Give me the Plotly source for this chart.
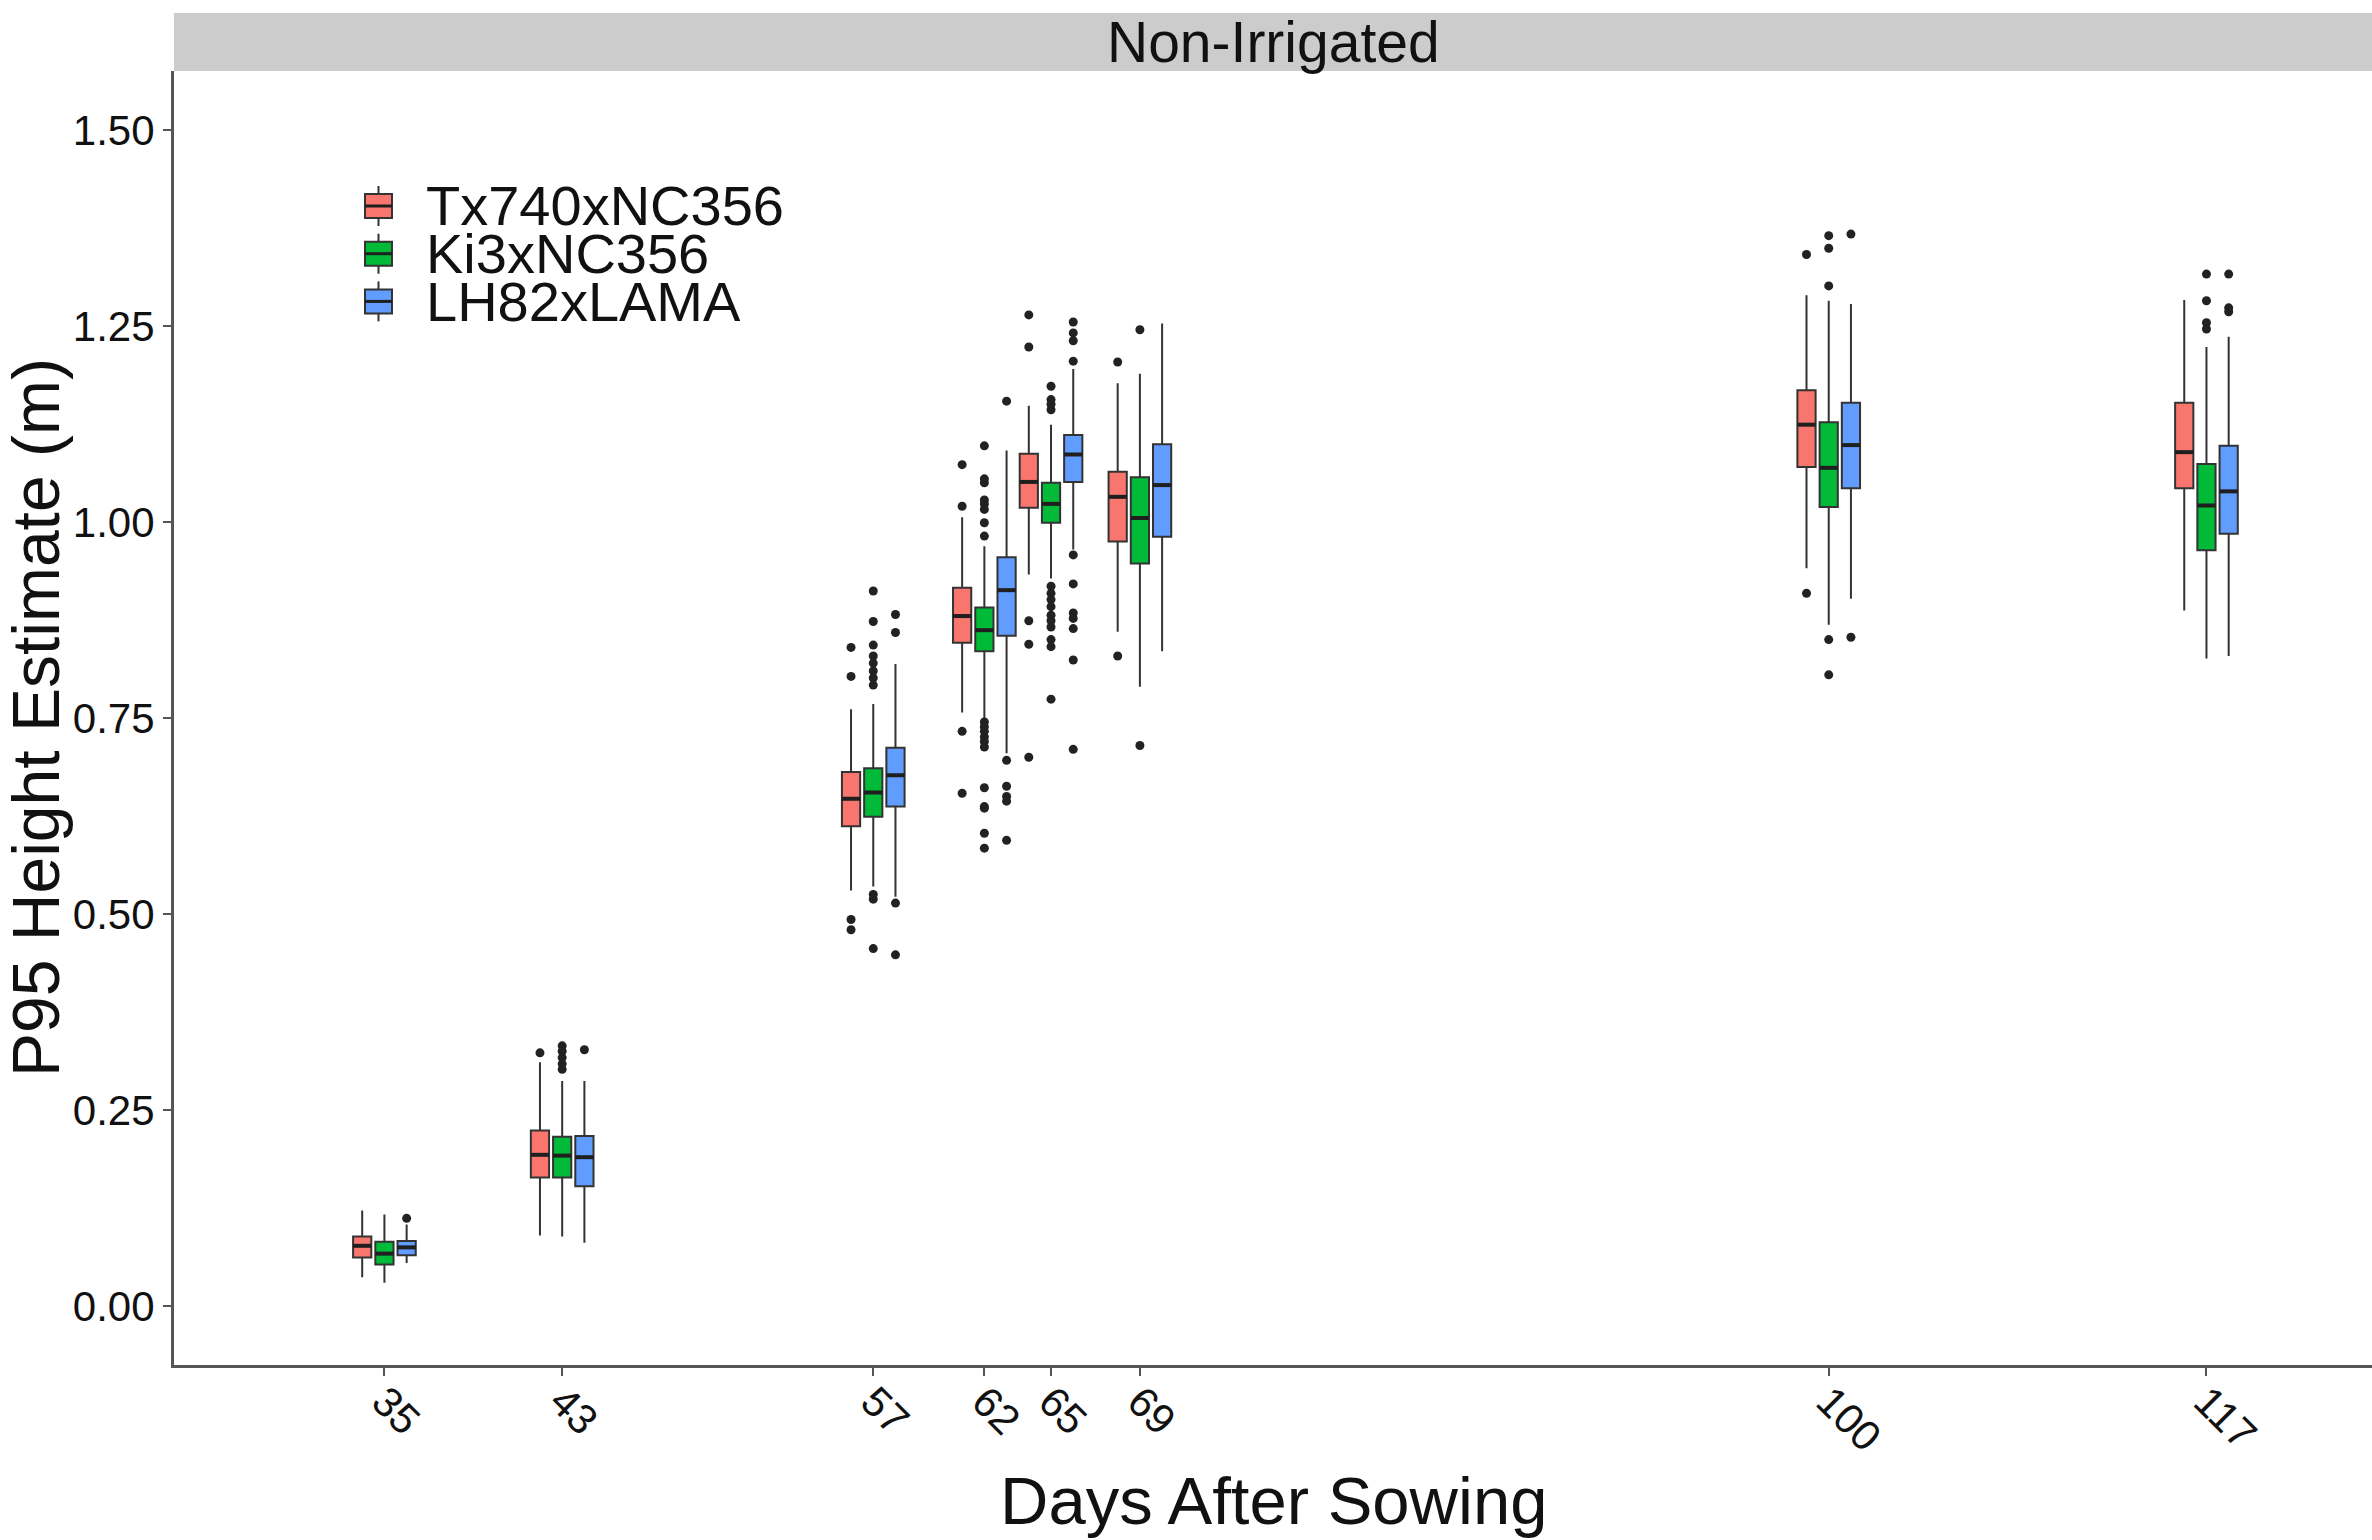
import plotly.graph_objects as go

# ---------------- data ----------------
days = [35, 43, 57, 62, 65, 69, 100, 117]
day_labels = ["35", "43", "57", "62", "65", "69", "100", "117"]
y_ticks = [0.0, 0.25, 0.50, 0.75, 1.00, 1.25, 1.50]
y_tick_labels = ["0.00", "0.25", "0.50", "0.75", "1.00", "1.25", "1.50"]

genotypes = ["Tx740xNC356", "Ki3xNC356", "LH82xLAMA"]

# Tx740xNC356
tx_lower = [0.037, 0.090, 0.530, 0.757, 0.933, 0.860, 0.941, 0.887]
tx_q1 = [0.062, 0.164, 0.612, 0.846, 1.018, 0.975, 1.070, 1.043]
tx_median = [0.077, 0.193, 0.647, 0.880, 1.051, 1.032, 1.124, 1.089]
tx_q3 = [0.089, 0.224, 0.681, 0.916, 1.087, 1.064, 1.168, 1.152]
tx_upper = [0.122, 0.311, 0.761, 1.006, 1.148, 1.177, 1.289, 1.283]
tx_outliers = [
    [],
    [0.323],
    [0.840, 0.803, 0.493, 0.480],
    [1.073, 1.020, 0.733, 0.654],
    [1.264, 1.223, 0.874, 0.844, 0.700],
    [1.204, 0.829],
    [1.341, 0.909],
    [],
]

# Ki3xNC356
ki_lower = [0.030, 0.089, 0.535, 0.750, 0.928, 0.790, 0.869, 0.826]
ki_q1 = [0.053, 0.164, 0.624, 0.835, 0.999, 0.947, 1.019, 0.964]
ki_median = [0.067, 0.192, 0.655, 0.862, 1.023, 1.005, 1.069, 1.021]
ki_q3 = [0.082, 0.216, 0.686, 0.891, 1.050, 1.057, 1.127, 1.074]
ki_upper = [0.117, 0.287, 0.768, 0.969, 1.124, 1.189, 1.282, 1.223]
ki_outliers = [
    [],
    [0.332, 0.325, 0.317, 0.309, 0.302],
    [0.912, 0.873, 0.843, 0.829, 0.820, 0.810, 0.801, 0.792, 0.525, 0.519, 0.456],
    [1.097, 1.055, 1.050, 1.028, 1.023, 1.016, 0.999, 0.982,
     0.745, 0.739, 0.733, 0.726, 0.720, 0.713, 0.661, 0.637, 0.635, 0.603, 0.584],
    [1.173, 1.156, 1.150, 1.143, 0.918, 0.909, 0.901, 0.892, 0.881, 0.874,
     0.866, 0.850, 0.841, 0.774],
    [1.245, 0.715],
    [1.365, 1.349, 1.301, 0.850, 0.805],
    [1.316, 1.282, 1.254, 1.246],
]

# LH82xLAMA
lh_lower = [0.055, 0.081, 0.522, 0.705, 0.965, 0.835, 0.902, 0.829]
lh_q1 = [0.065, 0.153, 0.637, 0.855, 1.051, 0.981, 1.043, 0.985]
lh_median = [0.075, 0.190, 0.677, 0.913, 1.086, 1.047, 1.098, 1.039]
lh_q3 = [0.083, 0.217, 0.712, 0.955, 1.111, 1.099, 1.152, 1.097]
lh_upper = [0.104, 0.287, 0.819, 1.091, 1.195, 1.253, 1.278, 1.236]
lh_outliers = [
    [0.112],
    [0.327],
    [0.882, 0.859, 0.514, 0.448],
    [1.154, 0.696, 0.663, 0.650, 0.644, 0.594],
    [1.255, 1.241, 1.231, 1.205, 0.958, 0.921, 0.884, 0.877, 0.864, 0.824, 0.710],
    [],
    [1.367, 0.853],
    [1.316, 1.273, 1.268],
]

# ---------------- style ----------------
W, H = 2372, 1540
FONT = "Liberation Sans, Arial, Helvetica, sans-serif"
colors = ["#F8766D", "#00BA38", "#619CFF"]
dodge = [-1.0, 0.0, 1.0]
box_w = 0.82
outline = "#333333"

stats = [
    (tx_lower, tx_q1, tx_median, tx_q3, tx_upper, tx_outliers),
    (ki_lower, ki_q1, ki_median, ki_q3, ki_upper, ki_outliers),
    (lh_lower, lh_q1, lh_median, lh_q3, lh_upper, lh_outliers),
]

fig = go.Figure()

for gi, (lo, q1, med, q3, up, outs) in enumerate(stats):
    xs = [d + dodge[gi] for d in days]
    fig.add_trace(go.Box(
        x=xs, q1=q1, median=med, q3=q3, lowerfence=lo, upperfence=up,
        name=genotypes[gi], width=box_w, whiskerwidth=0,
        fillcolor=colors[gi], line=dict(color=outline, width=2),
        boxpoints=False, showlegend=False, hoverinfo="skip",
    ))

for gi, (lo, q1, med, q3, up, outs) in enumerate(stats):
    ox, oy = [], []
    for d, vals in zip(days, outs):
        for v in vals:
            ox.append(d + dodge[gi])
            oy.append(v)
    fig.add_trace(go.Scatter(
        x=ox, y=oy, mode="markers",
        marker=dict(color="#222222", size=9, line=dict(width=0)),
        showlegend=False, hoverinfo="skip",
    ))
    # thicker median bars (ggplot style)
    mx, my = [], []
    for d, m in zip(days, med):
        c = d + dodge[gi]
        mx += [c - box_w / 2, c + box_w / 2, None]
        my += [m, m, None]
    fig.add_trace(go.Scatter(
        x=mx, y=my, mode="lines",
        line=dict(color="#1f1f1f", width=4),
        showlegend=False, hoverinfo="skip",
    ))

left_px, right_px = 174, W
top_px, bottom_px = 71, 1365
x_dom = [left_px / W, right_px / W]
y_dom = [1 - bottom_px / H, 1 - top_px / H]

axis_common = dict(
    showline=True, linecolor="#555555", linewidth=3,
    ticks="outside", ticklen=8, tickwidth=2, tickcolor="#555555",
    showgrid=False, zeroline=False,
    tickfont=dict(family=FONT, size=42, color="#111111"),
)

fig.update_layout(
    width=W, height=H,
    margin=dict(l=0, r=0, t=0, b=0),
    paper_bgcolor="white", plot_bgcolor="white",
    boxmode="overlay",
    font=dict(family=FONT, color="#111111"),
    xaxis=dict(domain=x_dom, range=[25.53, 124.45],
               tickmode="array", tickvals=days, ticktext=day_labels,
               tickangle=45, ticklabelstandoff=-16, **axis_common),
    yaxis=dict(domain=y_dom, range=[-0.075, 1.575],
               tickmode="array", tickvals=y_ticks, ticktext=y_tick_labels,
               **axis_common),
)

shapes = []
annotations = []

# facet strip
shapes.append(dict(type="rect", xref="paper", yref="paper",
                   x0=x_dom[0], x1=x_dom[1], y0=1 - 71 / H, y1=1 - 13 / H,
                   fillcolor="#CCCCCC", line=dict(width=0), layer="below"))
annotations.append(dict(text="Non-Irrigated", xref="paper", yref="paper",
                        x=(x_dom[0] + x_dom[1]) / 2, y=1 - 42 / H,
                        xanchor="center", yanchor="middle", showarrow=False,
                        font=dict(family=FONT, size=57, color="#111111")))

# axis titles
annotations.append(dict(text="Days After Sowing", xref="paper", yref="paper",
                        x=(x_dom[0] + x_dom[1]) / 2, y=1 - 1500 / H,
                        xanchor="center", yanchor="middle", showarrow=False,
                        font=dict(family=FONT, size=67, color="#111111")))
annotations.append(dict(text="P95 Height Estimate (m)", xref="paper", yref="paper",
                        x=36 / W, y=1 - (top_px + bottom_px) / 2 / H,
                        xanchor="center", yanchor="middle", showarrow=False,
                        textangle=-90,
                        font=dict(family=FONT, size=66, color="#111111")))

# legend (ggplot-style boxplot keys)
key_cx, key_half, whisk_half = 378.5, 13.5, 20
for gi, name in enumerate(genotypes):
    cy = 206 + gi * 47.7
    shapes.append(dict(type="line", xref="paper", yref="paper",
                       x0=key_cx / W, x1=key_cx / W,
                       y0=1 - (cy - whisk_half) / H, y1=1 - (cy + whisk_half) / H,
                       line=dict(color=outline, width=2)))
    shapes.append(dict(type="rect", xref="paper", yref="paper",
                       x0=(key_cx - key_half) / W, x1=(key_cx + key_half) / W,
                       y0=1 - (cy - 12) / H, y1=1 - (cy + 12) / H,
                       fillcolor=colors[gi], line=dict(color=outline, width=2)))
    shapes.append(dict(type="line", xref="paper", yref="paper",
                       x0=(key_cx - key_half) / W, x1=(key_cx + key_half) / W,
                       y0=1 - cy / H, y1=1 - cy / H,
                       line=dict(color="#1f1f1f", width=3)))
    annotations.append(dict(text=name, xref="paper", yref="paper",
                            x=424 / W, y=1 - cy / H,
                            xanchor="left", yanchor="middle", showarrow=False,
                            font=dict(family=FONT, size=56, color="#111111")))

fig.update_layout(shapes=shapes, annotations=annotations)

fig.write_html("out.html")
